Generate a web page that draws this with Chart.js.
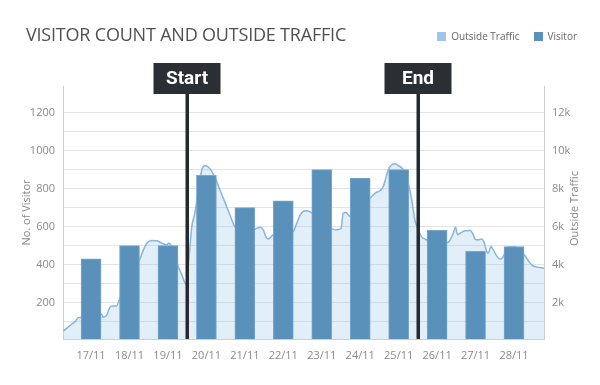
<!DOCTYPE html>
<html>
<head>
<meta charset="utf-8">
<script src="https://cdn.jsdelivr.net/npm/chart.js@4.4.1/dist/chart.umd.min.js"></script>
<style>
  html, body { margin: 0; padding: 0; background: #fff; }
  #wrap { position: relative; width: 600px; height: 385px; overflow: hidden; }
  #c { position: absolute; left: 0; top: 0; }
  #title { position: absolute; left: 26px; top: 22px; font-family: 'Open Sans', sans-serif; font-weight: 400; font-size: 18px; color: #505050; white-space: nowrap; letter-spacing: -0.2px; }
  #legend { position: absolute; right: 23px; top: 29px; display: flex; align-items: center; font-family: 'Open Sans', sans-serif; font-size: 10px; color: #666; white-space: nowrap; }
  #legend .sw { display: inline-block; width: 9px; height: 9px; margin-right: 5px; }
  #legend .it { display: flex; align-items: center; margin-left: 14px; }
</style>
</head>
<body>
<div id="wrap">
  <canvas id="c" width="600" height="385"></canvas>
  <div id="title">VISITOR COUNT AND OUTSIDE TRAFFIC</div>
  <div id="legend">
    <span class="it"><span class="sw" style="background:#9fc5e8"></span>Outside Traffic</span>
    <span class="it"><span class="sw" style="background:#5a91bb"></span>Visitor</span>
  </div>
</div>
<script>
// ---- data ----
const categories = ['17/11','18/11','19/11','20/11','21/11','22/11','23/11','24/11','25/11','26/11','27/11','28/11'];
const visitors = [430, 500, 500, 870, 700, 735, 900, 855, 900, 580, 470, 495];
// outside traffic, sampled within days (x in days from 17/11)
const trafficX = [-0.72,-0.50,-0.42,-0.33,-0.03,0.27,0.32,0.41,0.49,0.58,0.67,0.73,1.00,1.26,1.36,1.45,1.58,1.71,1.84,1.97,2.01,2.06,2.15,2.27,2.36,2.47,2.53,2.62,2.70,2.80,2.88,2.96,3.05,3.14,3.25,3.35,3.49,3.61,3.74,4.00,4.27,4.40,4.48,4.55,4.61,4.74,5.00,5.26,5.35,5.44,5.57,5.70,6.00,6.28,6.39,6.50,6.56,6.63,6.74,7.00,7.27,7.39,7.52,7.60,7.73,7.82,7.91,7.99,8.12,8.27,8.34,8.43,8.47,8.60,8.69,8.75,9.00,9.28,9.34,9.42,9.48,9.53,9.60,9.73,9.86,9.93,9.99,10.07,10.16,10.23,10.29,10.33,10.40,10.46,10.55,10.64,10.72,10.83,11.02,11.29,11.37,11.46,11.55,11.68,11.78];
const traffic = [500,870,990,1200,1250,1400,1220,1345,1750,1820,1835,2135,3300,4245,4775,5125,5265,5250,5125,5035,5125,5075,4700,3890,3455,2975,3980,6000,6710,8000,8990,9200,9135,8900,8465,7940,7235,6620,6000,5750,5865,5970,5830,5445,5340,5565,5600,5740,6180,6620,6830,6775,6200,5865,5830,5895,6710,6740,6530,7000,7530,7765,7900,8110,8990,9255,9310,9205,8990,8110,7410,6265,6040,5445,5340,5265,5200,5160,5300,5655,5970,5565,5655,5775,5790,5615,5340,5300,5340,5125,4685,4600,4945,4775,4455,4280,4420,4915,4930,4455,4210,3980,3890,3840,3810];
const leftTicks = [200, 400, 600, 800, 1000, 1200];
const rightTicks = [2000, 4000, 6000, 8000, 10000, 12000];
const markers = [2.5, 8.5];
const markerLabels = ['Start', 'End'];

// ---- chart ----
Chart.defaults.font.family = "'Open Sans', sans-serif";
Chart.defaults.font.size = 11;
Chart.defaults.color = '#888';

const markerPlugin = {
  id: 'markers',
  afterDatasetsDraw(chart) {
    const ctx = chart.ctx;
    const xs = chart.scales.x;
    const area = chart.chartArea;
    ctx.save();
    markers.forEach((v, i) => {
      const px = Math.round(xs.getPixelForValue(v));
      ctx.fillStyle = '#262a2e';
      ctx.fillRect(px - 1.5, 80, 3.5, area.bottom - 80);
      const w = 67, h = 31, top = 63;
      ctx.fillStyle = '#2b2f33';
      ctx.fillRect(px - w / 2, top, w, h);
      ctx.fillStyle = '#ffffff';
      ctx.font = "bold 19px Roboto, 'Open Sans', sans-serif";
      ctx.textAlign = 'center';
      ctx.textBaseline = 'middle';
      ctx.fillText(markerLabels[i], px, top + h / 2 + 1);
    });
    // right axis title (reads bottom to top)
    const y2 = chart.scales.y2;
    ctx.translate(575, (y2.top + y2.bottom) / 2 - 4);
    ctx.rotate(-Math.PI / 2);
    ctx.fillStyle = '#888';
    ctx.font = "11px 'Open Sans', sans-serif";
    ctx.textAlign = 'center';
    ctx.textBaseline = 'middle';
    ctx.fillText('Outside Traffic', 0, 0);
    ctx.restore();
  }
};

new Chart(document.getElementById('c'), {
  data: {
    datasets: [
      {
        type: 'line',
        label: 'Outside Traffic',
        data: trafficX.map((x, i) => ({ x: x, y: traffic[i] })),
        xAxisID: 'x',
        yAxisID: 'y2',
        borderColor: '#86b5df',
        borderWidth: 1.5,
        backgroundColor: 'rgba(140,186,226,0.25)',
        fill: 'origin',
        pointRadius: 0,
        cubicInterpolationMode: 'monotone',
        order: 2
      },
      {
        type: 'bar',
        label: 'Visitor',
        data: categories.map((c, i) => ({ x: i, y: visitors[i] })),
        xAxisID: 'x',
        yAxisID: 'y',
        backgroundColor: '#5a91bb',
        borderColor: '#78a7cc',
        borderWidth: 1,
        barThickness: 20,
        order: 1
      }
    ]
  },
  options: {
    responsive: false,
    animation: false,
    devicePixelRatio: 1,
    layout: { padding: { top: 86, left: 0, right: 0, bottom: 0 } },
    plugins: { legend: { display: false }, tooltip: { enabled: false } },
    scales: {
      x: {
        type: 'linear',
        min: -0.73,
        max: 11.78,
        offset: false,
        grid: { display: false, drawTicks: false },
        border: { display: true, color: '#cfcfcf', width: 1 },
        afterBuildTicks: (axis) => { axis.ticks = categories.map((c, i) => ({ value: i })); },
        ticks: {
          autoSkip: false,
          maxRotation: 0,
          padding: 10,
          color: '#8a8a8a',
          callback: (v) => categories[Math.round(v)]
        },
        afterFit: (s) => { s.height = 46; }
      },
      y: {
        position: 'left',
        min: 8,
        max: 1340,
        grid: {
          drawTicks: false,
          color: '#e4e4e4',
          lineWidth: 1
        },
        border: { display: true, color: '#cfcfcf', width: 1 },
        afterBuildTicks: (axis) => {
          const t = [];
          for (let v = 100; v <= 1200; v += 100) t.push({ value: v });
          axis.ticks = t;
        },
        ticks: {
          padding: 8,
          color: '#8a8a8a',
          callback: (v) => leftTicks.includes(v) ? String(v) : ''
        },
        title: { display: true, text: 'No. of Visitor', color: '#8a8a8a', font: { size: 11 }, padding: { top: 20, bottom: 0 } },
        afterFit: (s) => { s.width = 63; }
      },
      y2: {
        position: 'right',
        min: 80,
        max: 13400,
        grid: { display: false, drawTicks: false },
        border: { display: true, color: '#cfcfcf', width: 1 },
        afterBuildTicks: (axis) => { axis.ticks = rightTicks.map(v => ({ value: v })); },
        ticks: {
          padding: 8,
          color: '#8a8a8a',
          callback: (v) => (v / 1000) + 'k'
        },
        afterFit: (s) => { s.width = 56; }
      }
    }
  },
  plugins: [markerPlugin]
});
</script>
</body>
</html>
